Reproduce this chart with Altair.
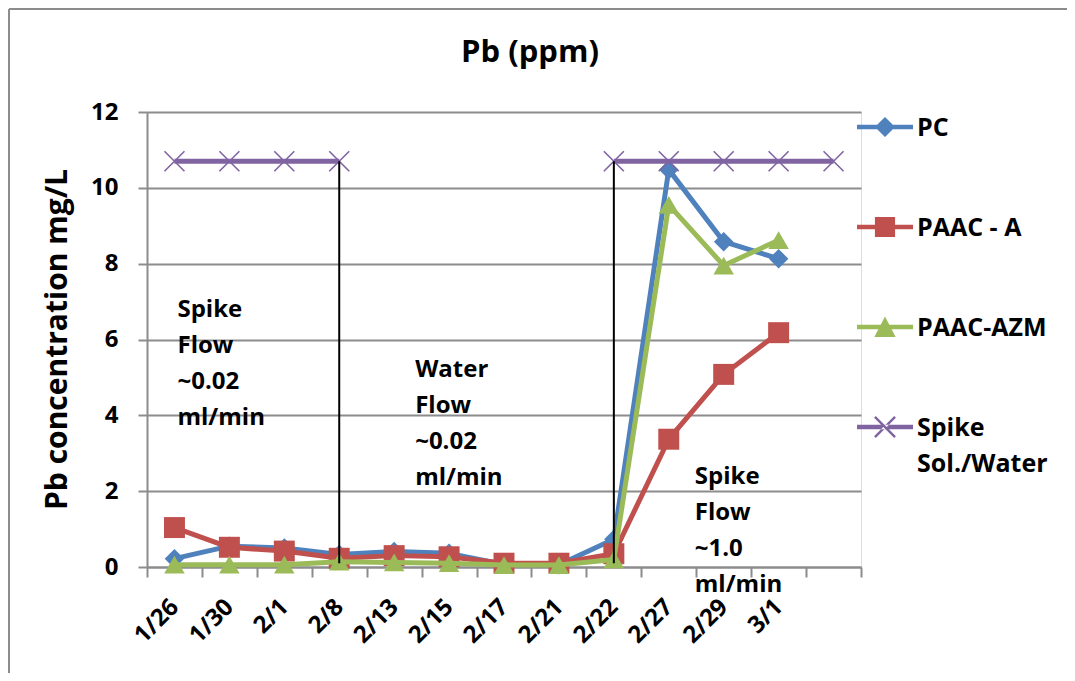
import altair as alt
import pandas as pd

# ---------------- data ----------------
dates = ["1/26", "1/30", "2/1", "2/8", "2/13", "2/15", "2/17", "2/21",
         "2/22", "2/27", "2/29", "3/1"]
extra_slot = " "                      # empty 13th category at the right
categories = dates + [extra_slot]

pc       = [0.22, 0.55, 0.50, 0.33, 0.41, 0.36, 0.07, 0.06, 0.73, 10.48, 8.58, 8.13]
paac_a   = [1.04, 0.52, 0.42, 0.23, 0.30, 0.27, 0.10, 0.10, 0.35, 3.37, 5.08, 6.18]
paac_azm = [0.06, 0.06, 0.06, 0.14, 0.12, 0.10, 0.05, 0.05, 0.20, 9.55, 7.95, 8.62]

spike_level = 10.7
spike_segment_1 = ["1/26", "1/30", "2/1", "2/8"]
spike_segment_2 = ["2/22", "2/27", "2/29", "3/1", extra_slot]

series_names = ["PC", "PAAC - A", "PAAC-AZM", "Spike Sol./Water"]
series_colors = ["#4F81BD", "#C0504D", "#9BBB59", "#8064A2"]

divider_dates = ["2/8", "2/22"]
divider_bottom = 0.1
divider_top = 10.7

note_dates = ["1/26", "2/13", "2/27"]
note_levels = [6.6, 5.0, 2.2]
note_texts = ["Spike\nFlow\n\u2004~0.02\nml/min",
              "Water\nFlow\n\u2004~0.02\nml/min",
              "Spike\nFlow\n\u2004~1.0\nml/min"]

y_ticks = [0, 2, 4, 6, 8, 10, 12]

# ---------------- tables ----------------
rows = []
for name, vals in zip(series_names[:3], [pc, paac_a, paac_azm]):
    for d, v in zip(dates, vals):
        rows.append({"date": d, "value": v, "series": name})
df = pd.DataFrame(rows)

spike_rows = []
for seg, ds in enumerate([spike_segment_1, spike_segment_2]):
    for d in ds:
        spike_rows.append({"date": d, "value": spike_level,
                           "series": series_names[3], "seg": seg})
spike_df = pd.DataFrame(spike_rows)

div_df = pd.DataFrame({"date": divider_dates,
                       "y0": [divider_bottom] * 2, "y1": [divider_top] * 2})

legend_df = pd.DataFrame({"series": series_names, "date": ["1/26"] * 4,
                          "value": [None] * 4})

# ---------------- styling ----------------
FONT = "Open Sans"
GRID = "#8C8C8C"

x_enc = alt.X("date:N", sort=categories,
              scale=alt.Scale(type="band", domain=categories,
                              paddingInner=0, paddingOuter=0),
              axis=alt.Axis(title=None, labelAngle=-45, labelAlign="right",
                            labelBaseline="middle", labelPadding=26,
                            labelFont=FONT, labelFontSize=24,
                            labelFontWeight="bold", labelColor="black",
                            tickBand="extent", tickSize=10, tickWidth=2,
                            tickColor=GRID, domainColor=GRID, domainWidth=2,
                            grid=False))

y_scale = alt.Scale(domain=[0, 12], nice=False, zero=True)
y_axis = alt.Axis(values=y_ticks, title="Pb concentration mg/L",
                  titleFont=FONT, titleFontSize=30, titleFontWeight="bold",
                  titleColor="black", titleAngle=-90, titleX=-90, titleY=227,
                  titleAlign="center", titleBaseline="middle",
                  labelFont=FONT, labelFontSize=24, labelFontWeight="bold",
                  labelColor="black", labelPadding=20,
                  tickSize=9, tickWidth=2, tickColor=GRID,
                  domainColor=GRID, domainWidth=2,
                  grid=True, gridColor=GRID, gridWidth=2)
y_enc = alt.Y("value:Q", scale=y_scale, axis=y_axis)

color_of = dict(zip(series_names, series_colors))

X_PATH = "M-1,-1L1,1M-1,1L1,-1"
marker_shapes = ["diamond", "square", "triangle-up"]
marker_sizes = [380, 440, 420]

layers = []
for name, shp, sz in zip(series_names[:3], marker_shapes, marker_sizes):
    base = alt.Chart(df).transform_filter(alt.datum.series == name)
    col = color_of[name]
    layers.append(base.mark_line(strokeWidth=5, strokeJoin="round",
                                 strokeCap="round", color=col)
                  .encode(x=x_enc, y=y_enc))
    layers.append(base.mark_point(filled=True, shape=shp, size=sz, opacity=1,
                                  strokeWidth=0, color=col)
                  .encode(x=x_enc, y=y_enc))

spike_col = color_of[series_names[3]]
spike_base = alt.Chart(spike_df)
layers.append(spike_base.mark_line(strokeWidth=5, color=spike_col)
              .encode(x=x_enc, y=y_enc, detail="seg:N"))
layers.append(spike_base.mark_point(filled=False, shape=X_PATH, size=400,
                                    strokeWidth=1.6, opacity=1, color=spike_col)
              .encode(x=x_enc, y=y_enc))

layers.append(alt.Chart(div_df).mark_rule(color="black", strokeWidth=2)
              .encode(x=x_enc, y=alt.Y("y0:Q", scale=y_scale), y2="y1:Q"))

note_dx = [3, 21, 26]
for d, lvl, txt, dx in zip(note_dates, note_levels, note_texts, note_dx):
    ndf = pd.DataFrame({"date": [d], "value": [lvl], "label": [txt]})
    layers.append(alt.Chart(ndf).mark_text(align="left", baseline="alphabetic",
                                           dx=dx, lineBreak="\n", lineHeight=36,
                                           font=FONT, fontSize=24,
                                           fontWeight="bold", color="black")
                  .encode(x=x_enc, y=y_enc, text="label:N"))

# legend symbols: line with the series marker in the middle (shifted up so
# that they line up with the label text drawn on an alphabetic baseline)
SH = -0.32

def pts(coords):
    return "M" + "L".join(f"{x:.3f},{y + SH:.3f}" for x, y in coords) + "Z"

def rect(x0, y0, x1, y1):
    return pts([(x0, y0), (x1, y0), (x1, y1), (x0, y1)])

LINE = rect(-1, -0.08, 1, 0.08)
d = 0.03
legend_paths = [
    LINE + pts([(0, -0.36), (0.36, 0), (0, 0.36), (-0.36, 0)]),
    LINE + rect(-0.36, -0.36, 0.36, 0.36),
    LINE + pts([(0, -0.38), (0.38, 0.36), (-0.38, 0.36)]),
    LINE + pts([(-0.36 - d, -0.36 + d), (-0.36 + d, -0.36 - d),
                (0.36 + d, 0.36 - d), (0.36 - d, 0.36 + d)])
         + pts([(-0.36 - d, 0.36 - d), (-0.36 + d, 0.36 + d),
                (0.36 + d, -0.36 + d), (0.36 - d, -0.36 - d)]),
]

legend_props = dict(
    title=None, orient="none", legendX=710, legendY=-4, padding=0,
    symbolSize=3136, symbolStrokeWidth=0, labelOffset=4,
    labelFont=FONT, labelFontSize=25, labelFontWeight="bold",
    labelColor="black", labelBaseline="alphabetic", labelLimit=300,
    rowPadding=67,
    labelExpr="datum.label == 'Spike Sol./Water' ? ['Spike', 'Sol./Water'] : datum.label",
)

color_scale = alt.Scale(domain=series_names, range=series_colors)
layers.append(alt.Chart(legend_df).mark_point(filled=True, opacity=1, strokeWidth=0)
              .encode(x=x_enc, y=y_enc,
                      color=alt.Color("series:N", scale=color_scale,
                                      legend=alt.Legend(**legend_props)),
                      shape=alt.Shape("series:N",
                                      scale=alt.Scale(domain=series_names,
                                                      range=legend_paths),
                                      legend=alt.Legend(**legend_props))))

# chart-area border (left and top edges)
one = alt.Data(values=[{"k": 1}])
layers.append(alt.Chart(one).mark_rule(color="#8C8C8C", strokeWidth=2)
              .encode(x=alt.value(-138), y=alt.value(-103), y2=alt.value(561)))
layers.append(alt.Chart(one).mark_rule(color="#8C8C8C", strokeWidth=2)
              .encode(x=alt.value(-138), x2=alt.value(924), y=alt.value(-103)))

chart = alt.layer(*layers).properties(
    width=714, height=455,
    padding={"left": 139, "top": 104, "right": 206, "bottom": 106},
    autosize=alt.AutoSizeParams(type="none"),
    title=alt.TitleParams("Pb (ppm)", font=FONT, fontSize=31, fontWeight="bold",
                          color="black", anchor="middle", dx=26, offset=-85,
                          baseline="alphabetic"),
).configure_view(stroke=None).configure(
    background="white",
    style={"guide-label": {"lineHeight": 36}},
)

chart.save("out.html", embed_options={"renderer": "svg", "actions": False})
